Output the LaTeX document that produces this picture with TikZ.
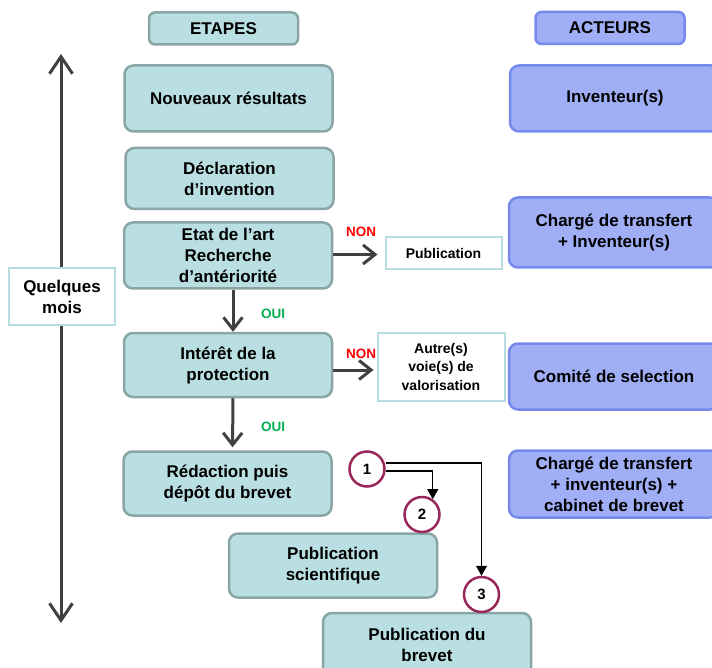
\documentclass[tikz,border=0pt]{standalone}
\usepackage{fontspec}
\setmainfont{Liberation Sans}
\usetikzlibrary{arrows.meta}
\definecolor{etapefill}{RGB}{185,223,226}
\definecolor{etapedraw}{RGB}{138,165,166}
\definecolor{acteurfill}{RGB}{160,174,245}
\definecolor{acteurdraw}{RGB}{118,138,238}
\definecolor{issuedraw}{RGB}{183,221,224}
\definecolor{nonred}{RGB}{255,0,0}
\definecolor{ouigreen}{RGB}{0,176,80}
\definecolor{rond}{RGB}{153,40,90}
\definecolor{fleche}{RGB}{64,64,64}

\begin{document}
\begin{tikzpicture}[x=1pt,y=-1pt,
        etape/.style={rectangle,rounded corners=9pt,draw=etapedraw,fill=etapefill,line width=2.5pt,
            minimum width=208pt,minimum height=64pt,align=center,font=\fontsize{17}{21}\selectfont\bfseries},
        acteur/.style={etape,draw=acteurdraw,fill=acteurfill},
        titre/.style={etape,minimum width=149pt,minimum height=32pt,rounded corners=6pt},
        issue/.style={rectangle,draw=issuedraw,fill=white,line width=2pt,align=center,
            font=\fontsize{14}{18.5}\selectfont\bfseries},
        rep/.style={font=\fontsize{13.5}{15}\selectfont\bfseries},
        rond/.style={circle,draw=rond,fill=white,line width=2.5pt,minimum size=35pt,inner sep=0pt,
            font=\fontsize{15}{17}\selectfont\bfseries},
        flow/.style={draw=fleche,line width=3pt,-{Straight Barb[length=12pt,width=19pt]}},
        pointer/.style={draw=black,line width=1.2pt,-{Triangle[length=10pt,width=11pt]}}]

    \useasboundingbox (0,0) rectangle (712,668);

    % Titres
    \node[titre] (etapes) at (223.5,28.5) {ETAPES};
    \node[titre,draw=acteurdraw,fill=acteurfill] (acteurs) at (610,28) {ACTEURS};

    % Duree
    \coordinate (haut) at (61,54);
    \coordinate (bas) at (61,623);
    \draw[fleche,line width=3pt,{Straight Barb[length=17pt,width=23pt]}-{Straight Barb[length=17pt,width=23pt]}] (haut) -- (bas);
    \node[issue,minimum width=106pt,minimum height=57pt,font=\fontsize{17}{21}\selectfont\bfseries] (mois) at (62,296.5) {Quelques\\mois};

    % Etapes
    \node[etape,minimum height=66pt] (nouveaux) at (228.5,98.5) {Nouveaux résultats};
    \node[etape,minimum height=61pt] (declaration) at (229.5,178.5) {Déclaration\\d’invention};
    \node[etape,minimum height=66pt] (etat) at (228,255.5) {Etat de l’art\\Recherche\\d’antériorité};
    \node[etape] (interet) at (228,365) {Intérêt de la\\protection};
    \node[etape] (redaction) at (227.5,483.5) {Rédaction puis\\dépôt du brevet};
    \node[etape] (pubsci) at (333,565.5) {Publication\\scientifique};
    \node[etape] (pubbrevet) at (427,645) {Publication du\\brevet};

    % Issues
    \node[issue,minimum width=116pt,minimum height=32pt] (publication) at (443.5,253.5) {Publication};
    \node[issue,minimum width=127pt,minimum height=68pt] (autre) at (441,366.5) {Autre(s)\\voie(s) de\\valorisation};

    % Acteurs
    \node[acteur,minimum width=210pt,minimum height=66pt] (inventeur) at (615,98.5) {Inventeur(s)};
    \node[acteur,minimum width=210pt,minimum height=70pt] (charge) at (614,232.5) {Chargé de transfert\\+ Inventeur(s)};
    \node[acteur,minimum width=210pt,minimum height=66pt] (comite) at (614,376.5) {Comité de selection};
    \node[acteur,minimum width=210pt,minimum height=67pt] (cabinet) at (614,484) {Chargé de transfert\\+ inventeur(s) +\\cabinet de brevet};

    % Reponses
    \node[rep,text=nonred] (non1) at (361,232) {NON};
    \node[rep,text=nonred] (non2) at (361,354) {NON};
    \node[rep,text=ouigreen] (oui1) at (273,314) {OUI};
    \node[rep,text=ouigreen] (oui2) at (273,427) {OUI};

    % Ordre des publications
    \node[rond] (un) at (367,469) {1};
    \node[rond] (deux) at (422,514.5) {2};
    \node[rond] (trois) at (481.5,594.5) {3};

    % Fleches
    \draw[flow,shorten >=7pt] ([yshift=1pt]etat.east) -- ([yshift=1pt]etat.east -| publication.west);
    \draw[flow,shorten >=3pt] ([yshift=-5pt]interet.east) -- ([yshift=-5pt]interet.east -| autre.west);
    \draw[flow] ([xshift=5pt]etat.south) -- ([xshift=5pt]interet.north);
    \draw[flow,shorten >=3pt] ([xshift=5pt]interet.south) -- ([xshift=5pt]redaction.north);
    \draw[pointer] ([yshift=6pt]un.east) -| (trois.north);
    \draw[pointer] ([yshift=-2pt]un.east) -| (deux.55);
\end{tikzpicture}
\end{document}
